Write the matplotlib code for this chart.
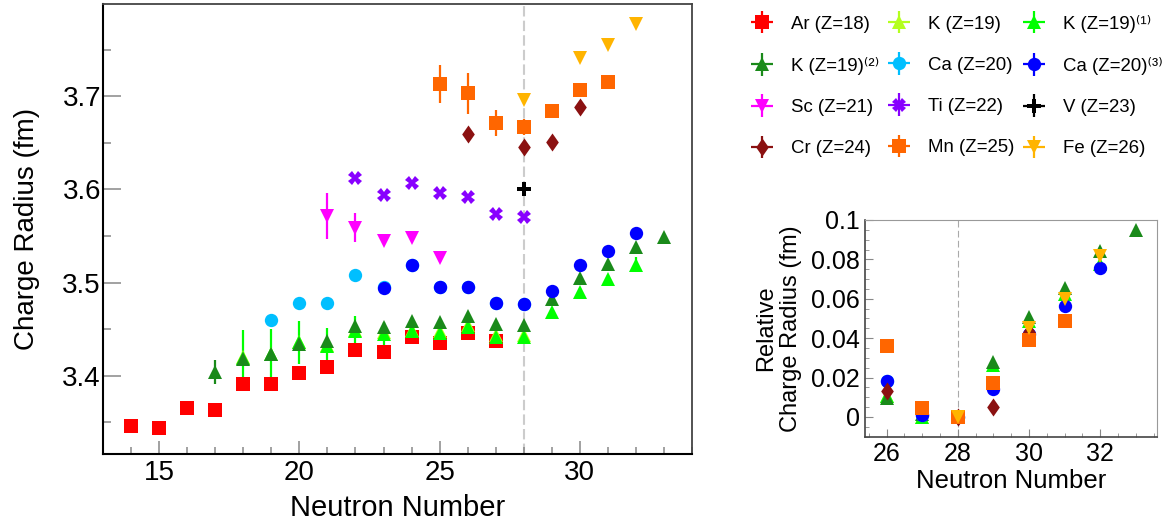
import matplotlib.pyplot as plt
from matplotlib.ticker import MultipleLocator, FuncFormatter
from matplotlib.container import ErrorbarContainer
from matplotlib.legend_handler import HandlerErrorbar

plt.rcParams['font.family'] = ['Liberation Sans', 'DejaVu Sans']

# charge radii (fm) vs neutron number for each isotope chain, with uncertainties
ar_n = [14, 15, 16, 17, 18, 19, 20, 21, 22, 23, 24, 25, 26, 27]
ar_r = [3.3464, 3.3435, 3.3654, 3.3636, 3.3907, 3.3910, 3.4029, 3.4093, 3.4275, 3.4250, 3.4415, 3.4350, 3.4457, 3.4378]
ar_e = [0.002, 0.002, 0.002, 0.002, 0.002, 0.002, 0.002, 0.002, 0.002, 0.002, 0.002, 0.002, 0.002, 0.002]

k_n = [18, 19, 20, 21, 22, 23, 24, 25, 26, 27, 28]
k_r = [3.4200, 3.4233, 3.4360, 3.4330, 3.4495, 3.4465, 3.4495, 3.4480, 3.4540, 3.4435, 3.4435]
k_e = [0.005, 0.005, 0.005, 0.005, 0.005, 0.005, 0.005, 0.005, 0.005, 0.005, 0.006]

k1_n = [18, 19, 20, 21, 22, 23, 24, 25, 26, 27, 28, 29, 30, 31, 32]
k1_r = [3.4190, 3.4237, 3.4357, 3.4320, 3.4480, 3.4450, 3.4475, 3.4457, 3.4520, 3.4415, 3.4415, 3.4679, 3.4903, 3.5039, 3.5190]
k1_e = [0.030, 0.026, 0.023, 0.019, 0.016, 0.013, 0.007, 0.006, 0.006, 0.005, 0.004, 0.004, 0.004, 0.004, 0.008]

k2_n = [17, 18, 19, 20, 21, 22, 23, 24, 25, 26, 27, 28, 29, 30, 31, 32, 33]
k2_r = [3.4040, 3.4178, 3.4236, 3.4340, 3.4375, 3.4529, 3.4520, 3.4586, 3.4579, 3.4636, 3.4557, 3.4540, 3.4820, 3.5047, 3.5197, 3.5380, 3.5487]
k2_e = [0.013, 0.003, 0.003, 0.003, 0.003, 0.003, 0.003, 0.003, 0.003, 0.003, 0.003, 0.003, 0.003, 0.003, 0.003, 0.003, 0.003]

ca_n = [19, 20, 21, 22, 23, 24, 25, 26, 27, 28]
ca_r = [3.4600, 3.4779, 3.4779, 3.5083, 3.4950, 3.5185, 3.4950, 3.4954, 3.4782, 3.4772]
ca_e = [0.002, 0.002, 0.002, 0.002, 0.002, 0.002, 0.002, 0.002, 0.002, 0.002]

ca3_n = [23, 24, 25, 26, 27, 28, 29, 30, 31, 32]
ca3_r = [3.4940, 3.5190, 3.4954, 3.4954, 3.4782, 3.4772, 3.4914, 3.5193, 3.5336, 3.5529]
ca3_e = [0.002, 0.002, 0.002, 0.002, 0.002, 0.002, 0.002, 0.002, 0.002, 0.002]

sc_n = [21, 22, 23, 24, 25]
sc_r = [3.5715, 3.5590, 3.5450, 3.5476, 3.5261]
sc_e = [0.0246, 0.0155, 0.003, 0.003, 0.004]

ti_n = [22, 23, 24, 25, 26, 27, 28]
ti_r = [3.6119, 3.5940, 3.6072, 3.5958, 3.5922, 3.5736, 3.5701]
ti_e = [0.002, 0.002, 0.002, 0.002, 0.002, 0.002, 0.002]

v_n = [28]
v_r = [3.6004]
v_e = [0.002]

cr_n = [26, 28, 29, 30]
cr_r = [3.6590, 3.6458, 3.6511, 3.6887]
cr_e = [0.002, 0.003, 0.002, 0.002]

mn_n = [25, 26, 27, 28, 29, 30, 31]
mn_r = [3.7130, 3.7030, 3.6715, 3.6669, 3.6843, 3.7062, 3.7154]
mn_e = [0.020, 0.022, 0.0138, 0.0086, 0.003, 0.003, 0.003]

fe_n = [28, 30, 31, 32]
fe_r = [3.6955, 3.7405, 3.7555, 3.7770]
fe_e = [0.002, 0.002, 0.002, 0.002]

diamond = [(0, 1), (0.7, 0), (0, -1), (-0.7, 0), (0, 1)]

series = [
    ('Ar (Z=18)', ar_n, ar_r, ar_e, 's', '#ff0000', 9.5),
    ('K (Z=19)', k_n, k_r, k_e, '^', '#b4ff1e', 10),
    ('K (Z=19)⁽¹⁾', k1_n, k1_r, k1_e, '^', '#00ff00', 10),
    ('K (Z=19)⁽²⁾', k2_n, k2_r, k2_e, '^', '#1a8a1a', 10),
    ('Ca (Z=20)', ca_n, ca_r, ca_e, 'o', '#00bfff', 9.6),
    ('Ca (Z=20)⁽³⁾', ca3_n, ca3_r, ca3_e, 'o', '#0000ff', 9.6),
    ('Sc (Z=21)', sc_n, sc_r, sc_e, 'v', '#ff00ff', 10),
    ('Ti (Z=22)', ti_n, ti_r, ti_e, 'X', '#8800ff', 10),
    ('V (Z=23)', v_n, v_r, v_e, 'P', '#000000', 9.5),
    ('Cr (Z=24)', cr_n, cr_r, cr_e, diamond, '#8b1111', 13),
    ('Mn (Z=25)', mn_n, mn_r, mn_e, 's', '#ff6600', 9.5),
    ('Fe (Z=26)', fe_n, fe_r, fe_e, 'v', '#ffb400', 10),
]
# chains shown relative to N=28 in the small panel
inset_labels = ['K (Z=19)', 'K (Z=19)⁽¹⁾', 'K (Z=19)⁽²⁾', 'Ca (Z=20)',
                'Ca (Z=20)⁽³⁾', 'Cr (Z=24)', 'Mn (Z=25)', 'Fe (Z=26)']

fig = plt.figure(figsize=(11.68, 5.25), dpi=100)
ax = fig.add_axes([0.0882, 0.1352, 0.5043, 0.8572])
ax_in = fig.add_axes([0.7408, 0.1682, 0.25, 0.4128])

handles = []
for label, n, r, e, m, c, ms in series:
    ax.errorbar(n, r, yerr=e, ls='none', marker=m, color=c, ms=ms, mew=0,
                elinewidth=1.6, capsize=0)
    # legend entry drawn with both horizontal and vertical bars
    h = ax.errorbar([], [], xerr=[], yerr=[], ls='none', marker=m, color=c, ms=ms,
                    mew=0, elinewidth=1.6, capsize=0, label=label)
    handles.append(h)
    if label in inset_labels:
        ref = r[n.index(28)]
        nn = [k for k in n if k >= 26]
        dr = [v - ref for k, v in zip(n, r) if k >= 26]
        ax_in.plot(nn, dr, ls='none', marker=m, color=c, ms=ms, mew=0)

ax.axvline(28, color='#cccccc', lw=1.5, ls=(0, (5, 2)), zorder=0)
ax.set_xlim(13, 34)
ax.set_ylim(3.316, 3.799)
ax.xaxis.set_major_locator(MultipleLocator(5))
ax.xaxis.set_minor_locator(MultipleLocator(1))
ax.yaxis.set_major_locator(MultipleLocator(0.1))
ax.yaxis.set_minor_locator(MultipleLocator(0.05))
ax.yaxis.set_major_formatter(FuncFormatter(lambda v, p: f'{v:.1f}'))
ax.tick_params(which='both', direction='in', color='#888888', width=1.1, labelsize=20)
ax.tick_params(axis='x', which='major', length=9.5, pad=4)
ax.tick_params(axis='x', which='minor', length=5)
ax.tick_params(axis='y', which='major', length=12.7, pad=1.5)
ax.tick_params(axis='y', which='minor', length=6)
ax.set_xlabel('Neutron Number', fontsize=21, labelpad=6)
ax.set_ylabel('Charge Radius (fm)', fontsize=20, labelpad=16)
for side in ['left', 'bottom']:
    ax.spines[side].set_linewidth(1.5)
for side in ['top', 'right']:
    ax.spines[side].set_color('#444444')
    ax.spines[side].set_linewidth(1.3)

ax_in.axvline(28, color='#aaaaaa', lw=0.8, ls=(0, (6, 3)), zorder=0)
ax_in.set_xlim(25.4, 33.6)
ax_in.set_ylim(-0.01, 0.1)
ax_in.xaxis.set_major_locator(MultipleLocator(2))
ax_in.xaxis.set_minor_locator(MultipleLocator(0.5))
ax_in.yaxis.set_major_locator(MultipleLocator(0.02))
ax_in.yaxis.set_minor_locator(MultipleLocator(0.005))
ax_in.yaxis.set_major_formatter(FuncFormatter(lambda v, p: f'{v:g}'))
ax_in.tick_params(which='both', direction='in', color='#888888', labelsize=18, pad=4)
ax_in.tick_params(which='major', length=6)
ax_in.tick_params(which='minor', length=3)
ax_in.set_xlabel('Neutron Number', fontsize=18.5, labelpad=2)
ax_in.set_ylabel('Relative\nCharge Radius (fm)', fontsize=17, labelpad=6, linespacing=1.2)
for side in ['left', 'bottom']:
    ax_in.spines[side].set_color('#444444')
    ax_in.spines[side].set_linewidth(1.2)
for side in ['top', 'right']:
    ax_in.spines[side].set_color('#999999')

# ROOT-style row ordering: matplotlib fills legend columns first
order = handles[0::3] + handles[1::3] + handles[2::3]
fig.legend(handles=order, loc='upper left', bbox_to_anchor=(0.6428, 0.972), ncol=3,
           frameon=False, fontsize=13.4, handlelength=1.2, handletextpad=0.95,
           columnspacing=0.46, labelspacing=1.3, borderpad=0, borderaxespad=0,
           handler_map={ErrorbarContainer: HandlerErrorbar(xerr_size=0.6)})

fig.savefig('out.png', dpi=100)
